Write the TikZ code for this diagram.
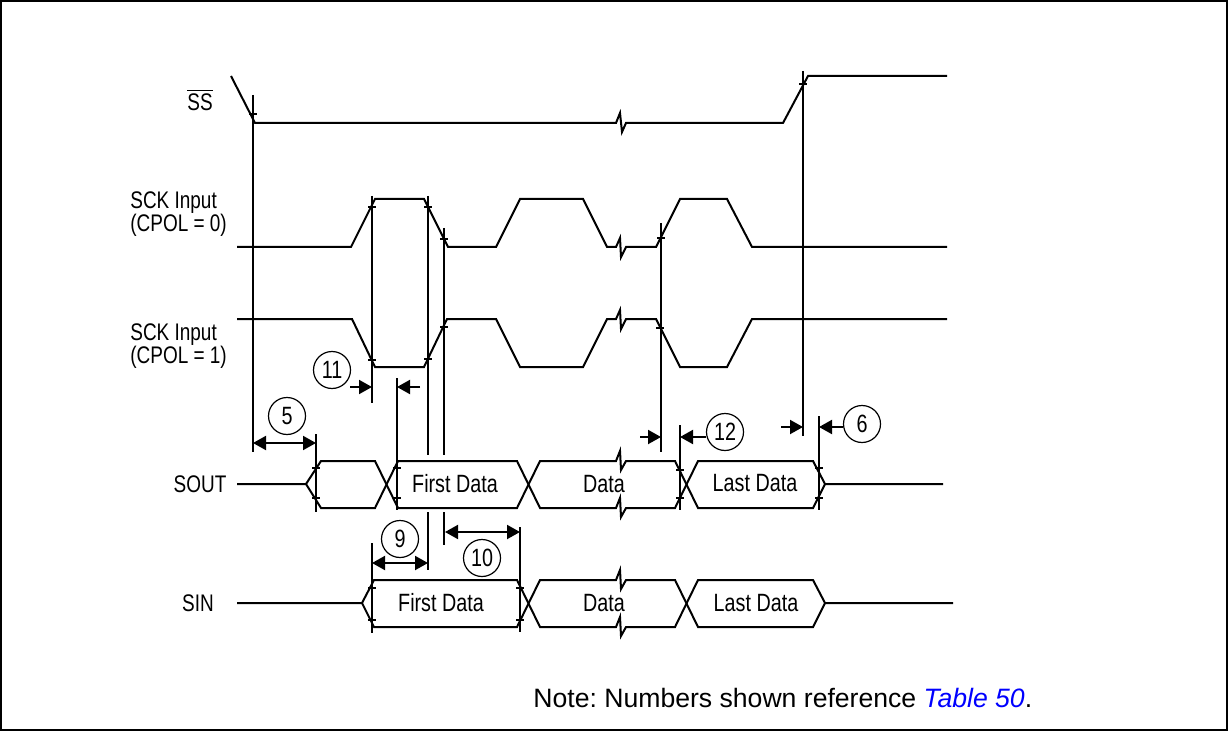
\documentclass[tikz,border=0pt]{standalone}
\usepackage{fontspec}
\setmainfont{Liberation Sans}
\newfontfamily\narrowfont[FakeStretch=0.79]{Liberation Sans}
\usetikzlibrary{arrows.meta}
\frenchspacing
\begin{document}
\begin{tikzpicture}[x=0.5pt,y=-0.5pt,
    wave/.style={line width=1pt},
    guide/.style={line width=1pt},
    tickmark/.style={line width=0.9pt},
    dimarrow/.style={line width=1pt,-{Triangle[length=6.5pt,width=7pt]}},
    dimboth/.style={line width=1pt,{Triangle[length=6.5pt,width=7pt]}-{Triangle[length=6.5pt,width=7pt]}},
    num/.style={circle,draw,line width=0.6pt,minimum size=18.5pt,inner sep=0pt,
        font=\narrowfont\fontsize{12.5}{13}\selectfont},
    lbl/.style={inner sep=0pt,font=\narrowfont\fontsize{12}{11.5}\selectfont},
    boxtext/.style={inner sep=0pt,font=\narrowfont\fontsize{12.5}{13}\selectfont}]
    \useasboundingbox (0,0) rectangle (1229,732);
    \draw[line width=1pt] (1,1) rectangle (1227,730);

    % signal names
    \node[lbl] (ssname) at (200,100) {$\overline{\mbox{SS}}$};
    \node[lbl,anchor=west,align=left] (sck0name) at (130,214) {SCK Input\\(CPOL = 0)};
    \node[lbl,anchor=west,align=left] (sck1name) at (130,346) {SCK Input\\(CPOL = 1)};
    \node[lbl] (soutname) at (200,484) {SOUT};
    \node[lbl] (sinname) at (198,603) {SIN};

    % waveforms
    \draw[wave] (231,76) -- (255,123) -- (616,123) -- (620,113) -- (622,132) -- (626,123)
        -- (783,123) -- (808,76) -- (947,76);
    \draw[wave] (237,247) -- (351,247) -- (375,199) -- (424,199) -- (448,247) -- (496,247)
        -- (520,199) -- (583,199) -- (607,247) -- (616,247) -- (620,238) -- (621,257) -- (626,247)
        -- (656,247) -- (680,199) -- (727,199) -- (752,247) -- (947,247);
    \draw[wave] (237,319) -- (352,319) -- (375,367) -- (424,367) -- (447,319) -- (496,319)
        -- (520,367) -- (583,367) -- (607,319) -- (616,319) -- (620,310) -- (621,329) -- (626,319)
        -- (656,319) -- (680,367) -- (727,367) -- (752,319) -- (947,319);
    % SOUT
    \draw[wave] (237,484) -- (306,484) -- (321,461) -- (375,461) -- (398,508) -- (517,508)
        -- (540,461) -- (616,461) -- (620,451) -- (621,470) -- (626,461) -- (675,461)
        -- (698,508) -- (813,508) -- (825,484) -- (943,484);
    \draw[wave] (306,484) -- (321,508) -- (375,508) -- (398,461) -- (517,461)
        -- (540,508) -- (616,508) -- (620,498) -- (621,517) -- (626,508) -- (675,508)
        -- (698,461) -- (813,461) -- (825,484);
    % SIN
    \draw[wave] (237,603) -- (362,603) -- (374,580) -- (517,580) -- (540,627) -- (616,627)
        -- (620,617) -- (621,636) -- (626,627) -- (675,627) -- (698,580) -- (813,580)
        -- (825,603) -- (953,603);
    \draw[wave] (362,603) -- (374,627) -- (517,627) -- (540,580) -- (616,580)
        -- (620,570) -- (621,589) -- (626,580) -- (675,580) -- (698,627) -- (813,627)
        -- (825,603);

    \node[boxtext] (soutfirst) at (455,484) {First Data};
    \node[boxtext] (soutdata) at (604,484) {Data};
    \node[boxtext] (soutlast) at (755,483) {Last Data};
    \node[boxtext] (sinfirst) at (441,603) {First Data};
    \node[boxtext] (sindata) at (604,603) {Data};
    \node[boxtext] (sinlast) at (756,603) {Last Data};

    % timing reference lines
    \foreach \x/\a/\b in {253/95/452, 372/196/403, 428/196/455, 428/512/570, 444/228/455,
        444/512/545, 397/378/510, 316/434/512, 661/223/452, 680/425/510, 803/71/436,
        819/416/510, 372/543/633, 520/527/632}
        \draw[guide] (\x,\a) -- (\x,\b);
    \foreach \x/\y in {253/114, 803/84, 372/207, 428/207, 444/239, 661/238, 372/360, 428/359,
        444/327, 660/328, 316/468, 316/498, 397/468, 397/498, 680/470, 680/498, 819/468,
        819/498, 372/588, 372/620, 520/588, 520/620}
        \draw[tickmark] (\x-4,\y) -- (\x+4,\y);

    % timing numbers
    \node[num] (t5) at (287,416) {5};
    \node[num] (t11) at (332,370) {11};
    \node[num] (t9) at (400,539) {9};
    \node[num] (t10) at (482,558) {10};
    \node[num] (t12) at (725,432) {12};
    \node[num] (t6) at (862,424) {6};
    \coordinate (t12tail) at (706,437);
    \coordinate (t6tail) at (843,427);
    \draw[dimboth] (253,443) -- (316,443);
    \draw[dimarrow] (350,387) -- (372,387);
    \draw[dimarrow] (420,387) -- (397,387);
    \draw[dimboth] (372,563) -- (428,563);
    \draw[dimboth] (445,532) -- (520,532);
    \draw[dimarrow] (640,437) -- (661,437);
    \draw[dimarrow] (t12tail) -- (680,437);
    \draw[dimarrow] (781,427) -- (803,427);
    \draw[dimarrow] (t6tail) -- (819,427);

    \node[anchor=base west,inner sep=0pt,font=\fontsize{13.3}{15}\selectfont] (note) at (533,707)
        {Note: Numbers shown reference \textcolor{blue}{\itshape Table 50}.};
\end{tikzpicture}
\end{document}
